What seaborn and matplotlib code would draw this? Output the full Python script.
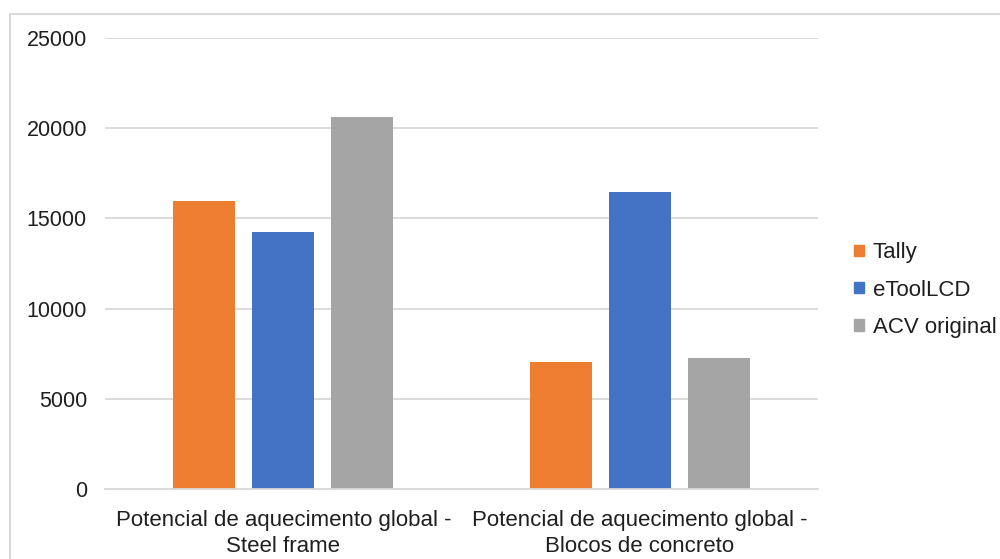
import matplotlib
matplotlib.use("Agg")
import matplotlib.pyplot as plt
import matplotlib.patches as mpatches
import seaborn as sns
import pandas as pd

categories = ["Potencial de aquecimento global -\nSteel frame",
              "Potencial de aquecimento global -\nBlocos de concreto"]
series = ["Tally", "eToolLCD", "ACV original"]
tally = [15960, 7060]
etool = [14250, 16450]
acv = [20620, 7280]
yticks = [0, 5000, 10000, 15000, 20000, 25000]
colors = ["#ED7D31", "#4472C4", "#A5A5A5"]

df = pd.DataFrame({
    "categoria": categories * 3,
    "serie": [s for s in series for _ in categories],
    "valor": tally + etool + acv,
})

sns.set_style("white")
plt.rcParams["font.family"] = ["Liberation Sans", "DejaVu Sans"]
text_color = "#1f1f1f"

fig = plt.figure(figsize=(10, 5.59), dpi=100)
ax = fig.add_axes([0.105, 0.1252, 0.713, 0.8068])

sns.barplot(data=df, x="categoria", y="valor", hue="serie", order=categories,
            hue_order=series, palette=colors, width=0.665, gap=0.215,
            saturation=1, ax=ax, edgecolor="none", linewidth=0)

ax.set_xlim(-0.5, 1.5)
ax.set_ylim(0, 25000)
ax.set_yticks(yticks)
ax.set_yticklabels([str(v) for v in yticks], fontsize=15.5, color=text_color)
ax.tick_params(axis="y", length=0, pad=13)
ax.tick_params(axis="x", length=0, pad=15, labelsize=16, labelcolor=text_color)
for lbl in ax.get_xticklabels():
    lbl.set_linespacing(1.35)
ax.set_xlabel("")
ax.set_ylabel("")
ax.yaxis.grid(True, color="#D9D9D9", linewidth=1.3)
ax.set_axisbelow(True)
for side in ["top", "right", "left"]:
    ax.spines[side].set_visible(False)
ax.spines["bottom"].set_color("#D9D9D9")
ax.spines["bottom"].set_linewidth(1.3)

handles = [mpatches.Patch(color=c, label=s) for c, s in zip(colors, series)]
ax.legend(handles=handles, loc="center left", bbox_to_anchor=(1.023, 0.441),
          frameon=False, fontsize=16, handlelength=0.42, handleheight=0.42,
          handletextpad=0.4, labelspacing=0.73, labelcolor=text_color)

# Chart area border
fig.patches.append(mpatches.Rectangle((0.010, -0.1), 1.2, 0.875 + 0.1 + 0.1,
                                      transform=fig.transFigure, fill=False,
                                      edgecolor="#D9D9D9", linewidth=1.5))

fig.savefig("out.png", dpi=100)
